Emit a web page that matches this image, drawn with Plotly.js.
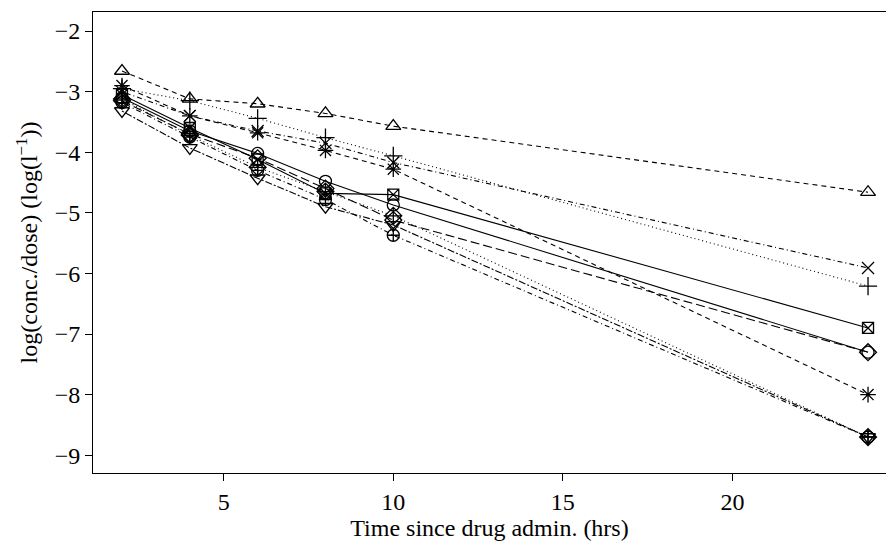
<!DOCTYPE html>
<html>
<head>
<meta charset="utf-8">
<script src="https://cdn.plot.ly/plotly-3.0.1.min.js"></script>
<style>html,body{margin:0;padding:0;background:#fff;overflow:hidden;}</style>
</head>
<body>
<div id="chart" style="width:886px;height:550px;"></div>
<script>
// Sampling times (hrs)
const times = [2, 4, 6, 8, 10, 24];

// log(conc./dose) for each subject
const subj1  = [-3.10, -3.65, -4.02, -4.48, -4.87, -7.30]; // circle, solid
const subj2  = [-2.66, -3.12, -3.20, -3.36, -3.57, -4.66]; // triangle, dashed
const subj3  = [-2.95, -3.15, -3.44, -3.76, -4.06, -6.21]; // plus, dotted
const subj4  = [-3.00, -3.40, -3.65, -3.85, -4.17, -5.91]; // cross, dot-dash
const subj5  = [-3.15, -3.70, -4.10, -4.60, -5.12, -7.30]; // diamond, long dash
const subj6  = [-3.32, -3.93, -4.43, -4.90, -5.20, -8.70]; // triangle down, two-dash
const subj7  = [-3.05, -3.60, -4.12, -4.68, -4.70, -6.90]; // boxed x, solid
const subj8  = [-2.90, -3.40, -3.68, -3.97, -4.28, -8.00]; // star, dashed
const subj9  = [-3.12, -3.72, -4.25, -4.65, -5.05, -8.70]; // diamond plus, dotted
const subj10 = [-3.18, -3.75, -4.30, -4.78, -5.37, -8.70]; // circle plus, dot-dash

const xTicks = [5, 10, 15, 20];
const yTicks = [-9, -8, -7, -6, -5, -4, -3, -2];

const series = [subj1, subj2, subj3, subj4, subj5, subj6, subj7, subj8, subj9, subj10];
const symbols = ['circle-open', 'triangle-up-open', 'cross-thin-open', 'x-thin-open',
  'diamond-open', 'triangle-down-open', 'square-x-open', 'asterisk-open',
  'diamond-cross-open', 'circle-cross-open'];
const dashes = ['solid', '5px,4px', '1px,3px', '1px,3px,5px,3px', '9px,4px',
  '2px,2px,7px,2px', 'solid', '5px,4px', '1px,3px', '1px,3px,5px,3px'];
const sizes = [12, 13, 13, 12, 13, 13, 11, 13, 13, 12];

const traces = series.map((ys, i) => ({
  x: times,
  y: ys,
  type: 'scatter',
  mode: 'lines+markers',
  line: {color: '#000', width: 1.1, dash: dashes[i]},
  marker: {symbol: symbols[i], size: sizes[i], color: '#000', line: {color: '#000', width: 1.3}},
  showlegend: false,
  hoverinfo: 'skip'
}));

const font = {family: 'Liberation Serif, Times New Roman, Times, serif', size: 24, color: '#000'};

const layout = {
  width: 886,
  height: 550,
  margin: {l: 93, r: 0, t: 12, b: 77},
  paper_bgcolor: '#fff',
  plot_bgcolor: '#fff',
  font: font,
  showlegend: false,
  xaxis: {
    range: [1.145, 24.53],
    tickvals: xTicks,
    ticktext: xTicks.map(String),
    ticks: 'outside',
    ticklen: 7,
    tickcolor: '#000',
    showline: true,
    linecolor: '#000',
    linewidth: 1,
    mirror: true,
    showgrid: false,
    zeroline: false,
    tickfont: font,
    title: {text: 'Time since drug admin. (hrs)', font: font, standoff: 4}
  },
  yaxis: {
    range: [-9.294, -1.686],
    tickvals: yTicks,
    ticktext: yTicks.map(v => '\u2212' + Math.abs(v)),
    ticks: 'outside',
    ticklen: 7,
    tickcolor: '#000',
    showline: true,
    linecolor: '#000',
    linewidth: 1,
    mirror: false,
    showgrid: false,
    zeroline: false,
    tickfont: font,
    title: {text: 'log(conc./dose) (log(l<sup>\u22121</sup>))', font: font, standoff: 10}
  }
};

Plotly.newPlot('chart', traces, layout, {staticPlot: true, displayModeBar: false});
</script>
</body>
</html>
